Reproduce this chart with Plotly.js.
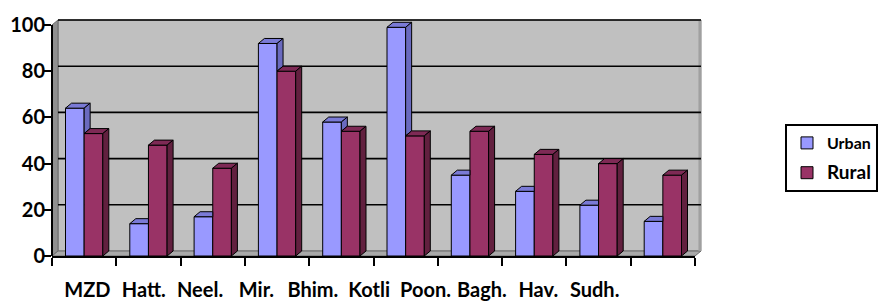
<!DOCTYPE html>
<html>
<head>
<meta charset="utf-8">
<script src="https://cdn.plot.ly/plotly-3.0.1.min.js"></script>
<style>html,body{margin:0;padding:0;background:#fff;}#chart{width:878px;height:305px;}</style>
</head>
<body>
<div id="chart"></div>
<script>
// ---- data ----
var categories = ["MZD", "Hatt.", "Neel.", "Mir.", "Bhim.", "Kotli", "Poon.", "Bagh.", "Hav.", "Sudh."];
var urbanValues = [64, 14, 17, 92, 58, 99, 35, 28, 22, 15];
var ruralValues = [53, 48, 38, 80, 54, 52, 54, 44, 40, 35];
var yTicks = [0, 20, 40, 60, 80, 100];

// ---- geometry of the fake 3D look ----
var W = 878, H = 305;
var M = {l: 52, r: 183, t: 14, b: 49};
var plotW = W - M.l - M.r, plotH = H - M.t - M.b;
var pxPerUnit = 2.31;
var yMax = plotH / pxPerUnit;
var barW = 0.29;
var dxPx = 6, dyPx = 5;
var dxU = dxPx / (plotW / 10), dyU = dyPx / pxPerUnit;
var dxF = dxPx / plotW, dyF = dyPx / plotH;

var idx = categories.map(function (c, i) { return i; });

function poly(pts, acc) {
  pts.forEach(function (p) { acc.x.push(p[0]); acc.y.push(p[1]); });
  acc.x.push(pts[0][0]); acc.y.push(pts[0][1]);
  acc.x.push(null); acc.y.push(null);
}
var uTop = {x: [], y: []}, uSide = {x: [], y: []}, rTop = {x: [], y: []}, rSide = {x: [], y: []};
idx.forEach(function (i) {
  var u = urbanValues[i], r = ruralValues[i];
  var ux0 = i - barW, ux1 = i, rx0 = i, rx1 = i + barW;
  if (u >= r) {
    poly([[ux0, u], [ux0 + dxU, u + dyU], [ux1 + dxU, u + dyU], [ux1, u]], uTop);
    poly([[ux1, r], [ux1 + dxU, r + dyU], [ux1 + dxU, u + dyU], [ux1, u]], uSide);
  } else {
    poly([[ux0, u], [ux0 + dxU, u + dyU], [ux1, u + dyU], [ux1, u]], uTop);
  }
  poly([[rx0, r], [rx0 + dxU, r + dyU], [rx1 + dxU, r + dyU], [rx1, r]], rTop);
  poly([[rx1, 0], [rx1 + dxU, dyU], [rx1 + dxU, r + dyU], [rx1, r]], rSide);
});

function face(acc, color) {
  return {type: 'scatter', mode: 'lines', x: acc.x, y: acc.y, fill: 'toself', fillcolor: color,
    line: {color: '#000', width: 1}, showlegend: false, hoverinfo: 'skip', connectgaps: false};
}

var traces = [
  {type: 'bar', name: '<span style="font-size:16px">Urban</span>', legendgroup: 'u', x: idx, y: urbanValues,
   marker: {color: '#9999ff', line: {color: '#000', width: 1}}},
  {type: 'bar', name: '<span style="font-size:19px">Rural</span>', legendgroup: 'r', x: idx, y: ruralValues,
   marker: {color: '#993366', line: {color: '#000', width: 1}}},
  face(uTop, '#7a7ad6'), face(uSide, '#6a6abf'),
  face(rTop, '#7e2a55'), face(rSide, '#62203f'),
  {type: 'scatter', mode: 'markers', x: categories, y: categories.map(function () { return 0; }),
   xaxis: 'x2', yaxis: 'y', marker: {opacity: 0}, showlegend: false, hoverinfo: 'skip'}
];

var topF = 100 / yMax;
var shapes = [
  // back wall
  {type: 'rect', xref: 'x domain', yref: 'y domain', x0: dxF, x1: 1 + dxF, y0: dyF, y1: topF + dyF,
   fillcolor: '#c0c0c0', line: {color: '#7a7a7a', width: 1}, layer: 'below'},
  // left wall
  {type: 'path', xref: 'x domain', yref: 'y domain',
   path: 'M0,0 L' + dxF + ',' + dyF + ' L' + dxF + ',' + (topF + dyF) + ' L0,' + topF + ' Z',
   fillcolor: '#8f8f8f', line: {color: '#6a6a6a', width: 1}, layer: 'below'},
  // floor
  {type: 'path', xref: 'x domain', yref: 'y domain',
   path: 'M0,0 L' + dxF + ',' + dyF + ' L' + (1 + dxF) + ',' + dyF + ' L1,0 Z',
   fillcolor: '#a9a9a9', line: {color: '#6a6a6a', width: 1}, layer: 'below'},
  // right edge of back wall
  {type: 'rect', xref: 'x domain', yref: 'y domain', x0: 1 + dxF - 0.004, x1: 1 + dxF, y0: dyF, y1: topF + dyF,
   fillcolor: '#a0a0a0', line: {width: 0}, layer: 'below'},
  // front y axis line
  {type: 'line', xref: 'x domain', yref: 'y', x0: 0, x1: 0, y0: 0, y1: 100,
   line: {color: '#000', width: 2}, layer: 'above'}
];
yTicks.forEach(function (v) {
  if (v === 0) return;
  shapes.push({type: 'line', xref: 'x domain', yref: 'y', x0: dxF, x1: 1 + dxF, y0: v + dyU, y1: v + dyU,
    line: {color: '#000', width: 1.6}, layer: 'below'});
});

var tickFont = {family: 'Lato, "Open Sans", sans-serif', size: 20, color: '#000', weight: 'bold'};
var boundaries = [];
for (var k = 0; k <= categories.length; k++) boundaries.push(k - 0.5);

var layout = {
  width: W, height: H,
  margin: M,
  paper_bgcolor: '#fff', plot_bgcolor: 'rgba(0,0,0,0)',
  barmode: 'group', bargap: 0.42, bargroupgap: 0,
  showlegend: true,
  legend: {xref: 'container', yref: 'container', x: 785 / W, y: 1 - 124 / H, xanchor: 'left', yanchor: 'top',
    traceorder: 'grouped', tracegroupgap: 6,
    bordercolor: '#000', borderwidth: 2, bgcolor: '#fff',
    font: {family: 'Lato, "Open Sans", sans-serif', size: 16, color: '#000', weight: 'bold'}},
  xaxis: {type: 'linear', range: [-0.5, 9.5], tickvals: boundaries, showticklabels: false,
    ticks: 'outside', ticklen: 8, tickwidth: 2, tickcolor: '#000',
    showline: true, linecolor: '#000', linewidth: 2, showgrid: false, zeroline: false, fixedrange: true},
  xaxis2: {type: 'category', domain: [(55 - M.l) / plotW, (627 - M.l) / plotW], anchor: 'y',
    showline: false, ticks: '', showgrid: false, zeroline: false, tickfont: tickFont,
    ticklabelstandoff: 20, tickangle: 0},
  yaxis: {range: [0, yMax], tickvals: yTicks, ticks: 'outside', ticklen: 8, tickwidth: 2, tickcolor: '#000',
    showline: false, showgrid: false, zeroline: false, tickfont: tickFont, ticklabelstandoff: -6},
  shapes: shapes
};

Plotly.newPlot('chart', traces, layout, {displayModeBar: false, staticPlot: true});
</script>
</body>
</html>
